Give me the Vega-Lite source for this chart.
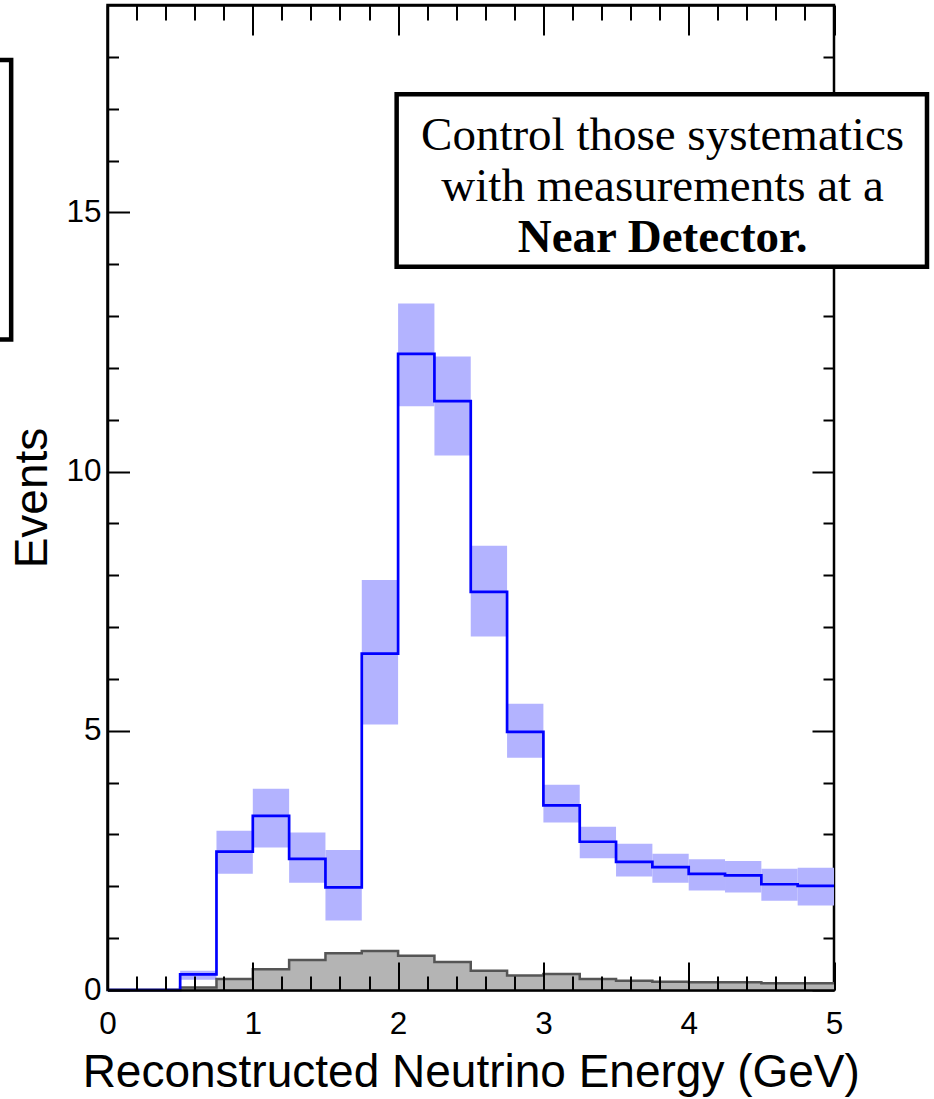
{
  "$schema": "https://vega.github.io/schema/vega-lite/v6.json",
  "width": 726.5,
  "height": 985,
  "autosize": {"type": "none"},
  "padding": {"left": 107.5, "top": 5, "right": 100, "bottom": 109},
  "background": "white",
  "config": {
    "view": {"stroke": "black", "strokeWidth": 2.5},
    "axis": {
      "labelFont": "Liberation Sans",
      "titleFont": "Liberation Sans",
      "labelColor": "black",
      "titleColor": "black",
      "labelFontSize": 31.5,
      "titleFontSize": 46,
      "titleFontWeight": "normal",
      "grid": false,
      "tickColor": "black",
      "tickWidth": 2,
      "domainColor": "black",
      "domainWidth": 2.5
    }
  },
  "datasets": {
    "hist": [
      {"lo": 0.0, "hi": 0.25, "blue": 0.0, "bLo": null, "bHi": null, "gray": 0.0},
      {"lo": 0.25, "hi": 0.5, "blue": 0.0, "bLo": null, "bHi": null, "gray": 0.0},
      {"lo": 0.5, "hi": 0.75, "blue": 0.30, "bLo": 0.20, "bHi": 0.37, "gray": 0.05},
      {"lo": 0.75, "hi": 1.0, "blue": 2.67, "bLo": 2.24, "bHi": 3.07, "gray": 0.21},
      {"lo": 1.0, "hi": 1.25, "blue": 3.36, "bLo": 2.75, "bHi": 3.88, "gray": 0.40},
      {"lo": 1.25, "hi": 1.5, "blue": 2.53, "bLo": 2.07, "bHi": 3.04, "gray": 0.58},
      {"lo": 1.5, "hi": 1.75, "blue": 1.98, "bLo": 1.34, "bHi": 2.70, "gray": 0.71},
      {"lo": 1.75, "hi": 2.0, "blue": 6.49, "bLo": 5.12, "bHi": 7.91, "gray": 0.75},
      {"lo": 2.0, "hi": 2.25, "blue": 12.27, "bLo": 11.26, "bHi": 13.24, "gray": 0.66},
      {"lo": 2.25, "hi": 2.5, "blue": 11.36, "bLo": 10.31, "bHi": 12.22, "gray": 0.54},
      {"lo": 2.5, "hi": 2.75, "blue": 7.68, "bLo": 6.82, "bHi": 8.57, "gray": 0.37},
      {"lo": 2.75, "hi": 3.0, "blue": 4.98, "bLo": 4.48, "bHi": 5.52, "gray": 0.28},
      {"lo": 3.0, "hi": 3.25, "blue": 3.56, "bLo": 3.23, "bHi": 3.96, "gray": 0.31},
      {"lo": 3.25, "hi": 3.5, "blue": 2.86, "bLo": 2.54, "bHi": 3.15, "gray": 0.21},
      {"lo": 3.5, "hi": 3.75, "blue": 2.47, "bLo": 2.19, "bHi": 2.82, "gray": 0.18},
      {"lo": 3.75, "hi": 4.0, "blue": 2.37, "bLo": 2.07, "bHi": 2.63, "gray": 0.16},
      {"lo": 4.0, "hi": 4.25, "blue": 2.24, "bLo": 1.92, "bHi": 2.52, "gray": 0.15},
      {"lo": 4.25, "hi": 4.5, "blue": 2.21, "bLo": 1.88, "bHi": 2.49, "gray": 0.15},
      {"lo": 4.5, "hi": 4.75, "blue": 2.04, "bLo": 1.72, "bHi": 2.34, "gray": 0.13},
      {"lo": 4.75, "hi": 5.0, "blue": 2.01, "bLo": 1.63, "bHi": 2.36, "gray": 0.13}
    ],
    "box": [{"x1": 1.99, "x2": 5.64, "y1": 13.95, "y2": 17.28}],
    "leftbox": [{"x1": -1.2, "x2": -0.663, "y1": 12.55, "y2": 17.94}],
    "lines": [
      {"t": "Control those systematics", "x": 3.82, "y": 16.2},
      {"t": "with measurements at a", "x": 3.82, "y": 15.21}
    ],
    "bold": [{"t": "Near Detector.", "x": 3.82, "y": 14.23}]
  },
  "layer": [
    {
      "data": {"name": "hist"},
      "mark": {"type": "rect", "color": "#b3b3ff"},
      "encoding": {
        "x": {
          "field": "lo", "type": "quantitative",
          "scale": {"domain": [0, 5], "nice": false, "zero": false},
          "axis": {
            "orient": "bottom",
            "values": [0, 1, 2, 3, 4, 5],
            "tickSize": -28,
            "format": "d",
            "labelPadding": 46,
            "labelFlush": false,
            "labelOverlap": false,
            "title": "Reconstructed Neutrino Energy (GeV)",
            "titlePadding": 11,
            "domain": true,
            "zindex": 1
          }
        },
        "x2": {"field": "hi"},
        "y": {
          "field": "bLo", "type": "quantitative",
          "scale": {"domain": [0, 19], "nice": false, "zero": false},
          "axis": {
            "orient": "left",
            "values": [0, 5, 10, 15],
            "tickSize": -22,
            "labelPadding": 28.5,
            "labelOverlap": false,
            "labelFlush": false,
            "title": "Events",
            "titlePadding": 9,
            "domain": true,
            "zindex": 1
          }
        },
        "y2": {"field": "bHi"}
      }
    },
    {
      "data": {"name": "hist"},
      "transform": [{"fold": ["lo", "hi"], "as": ["key", "edge"]}],
      "mark": {"type": "area", "color": "#b4b4b4"},
      "encoding": {
        "x": {
          "field": "edge", "type": "quantitative",
          "scale": {"domain": [0, 5], "nice": false, "zero": false},
          "axis": {
            "orient": "top",
            "values": [0, 1, 2, 3, 4, 5],
            "tickSize": -30,
            "labels": false,
            "title": null,
            "domain": true,
            "zindex": 1
          }
        },
        "y": {
          "field": "gray", "type": "quantitative", "stack": null,
          "scale": {"domain": [0, 19], "nice": false, "zero": false},
          "axis": {
            "orient": "right",
            "values": [0, 5, 10, 15],
            "tickSize": -22,
            "labels": false,
            "title": null,
            "domain": false,
            "zindex": 0
          }
        },
        "order": [{"field": "edge", "type": "quantitative"}, {"field": "key", "type": "ordinal"}]
      }
    },
    {
      "data": {"name": "hist"},
      "transform": [{"fold": ["lo", "hi"], "as": ["key", "edge"]}],
      "mark": {"type": "line", "color": "#555555", "strokeWidth": 2.5, "strokeJoin": "miter"},
      "encoding": {
        "x": {
          "field": "edge", "type": "quantitative",
          "scale": {"domain": [0, 5], "nice": false, "zero": false},
          "axis": {
            "orient": "bottom",
            "values": [0.2, 0.4, 0.6, 0.8, 1.2, 1.4, 1.6, 1.8, 2.2, 2.4, 2.6, 2.8, 3.2, 3.4, 3.6, 3.8, 4.2, 4.4, 4.6, 4.8],
            "tickSize": -14,
            "labels": false,
            "title": null,
            "domain": false,
            "zindex": 1
          }
        },
        "y": {
          "field": "gray", "type": "quantitative",
          "scale": {"domain": [0, 19], "nice": false, "zero": false},
          "axis": {
            "orient": "left",
            "values": [1, 2, 3, 4, 6, 7, 8, 9, 11, 12, 13, 14, 16, 17, 18],
            "tickSize": -11,
            "labels": false,
            "title": null,
            "domain": false,
            "zindex": 1
          }
        },
        "order": [{"field": "edge", "type": "quantitative"}, {"field": "key", "type": "ordinal"}]
      }
    },
    {
      "data": {"name": "hist"},
      "transform": [{"fold": ["lo", "hi"], "as": ["key", "edge"]}],
      "mark": {"type": "line", "color": "#0000ff", "strokeWidth": 2.7, "strokeJoin": "miter"},
      "encoding": {
        "x": {
          "field": "edge", "type": "quantitative",
          "scale": {"domain": [0, 5], "nice": false, "zero": false},
          "axis": {
            "orient": "top",
            "values": [0.2, 0.4, 0.6, 0.8, 1.2, 1.4, 1.6, 1.8, 2.2, 2.4, 2.6, 2.8, 3.2, 3.4, 3.6, 3.8, 4.2, 4.4, 4.6, 4.8],
            "tickSize": -15,
            "labels": false,
            "title": null,
            "domain": false,
            "zindex": 1
          }
        },
        "y": {
          "field": "blue", "type": "quantitative",
          "scale": {"domain": [0, 19], "nice": false, "zero": false},
          "axis": {
            "orient": "right",
            "values": [1, 2, 3, 4, 6, 7, 8, 9, 11, 12, 13, 14, 16, 17, 18],
            "tickSize": -11,
            "labels": false,
            "title": null,
            "domain": false,
            "zindex": 0
          }
        },
        "order": [{"field": "edge", "type": "quantitative"}, {"field": "key", "type": "ordinal"}]
      }
    },
    {
      "data": {"name": "leftbox"},
      "mark": {"type": "rect", "fill": "white", "stroke": "black", "strokeWidth": 4.5},
      "encoding": {
        "x": {"field": "x1", "type": "quantitative", "scale": {"domain": [0, 5], "nice": false, "zero": false}, "axis": null},
        "x2": {"field": "x2"},
        "y": {"field": "y1", "type": "quantitative", "scale": {"domain": [0, 19], "nice": false, "zero": false}, "axis": null},
        "y2": {"field": "y2"}
      }
    },
    {
      "data": {"name": "box"},
      "mark": {"type": "rect", "fill": "white", "stroke": "black", "strokeWidth": 4.5},
      "encoding": {
        "x": {"field": "x1", "type": "quantitative", "scale": {"domain": [0, 5], "nice": false, "zero": false}, "axis": null},
        "x2": {"field": "x2"},
        "y": {"field": "y1", "type": "quantitative", "scale": {"domain": [0, 19], "nice": false, "zero": false}, "axis": null},
        "y2": {"field": "y2"}
      }
    },
    {
      "data": {"name": "lines"},
      "mark": {"type": "text", "font": "Liberation Serif", "fontSize": 47, "align": "center", "baseline": "alphabetic", "color": "black"},
      "encoding": {
        "x": {"field": "x", "type": "quantitative", "scale": {"domain": [0, 5], "nice": false, "zero": false}, "axis": null},
        "y": {"field": "y", "type": "quantitative", "scale": {"domain": [0, 19], "nice": false, "zero": false}, "axis": null},
        "text": {"field": "t"}
      }
    },
    {
      "data": {"name": "bold"},
      "mark": {"type": "text", "font": "Liberation Serif", "fontSize": 47, "fontWeight": "bold", "align": "center", "baseline": "alphabetic", "color": "black"},
      "encoding": {
        "x": {"field": "x", "type": "quantitative", "scale": {"domain": [0, 5], "nice": false, "zero": false}, "axis": null},
        "y": {"field": "y", "type": "quantitative", "scale": {"domain": [0, 19], "nice": false, "zero": false}, "axis": null},
        "text": {"field": "t"}
      }
    }
  ],
  "resolve": {"axis": {"x": "independent", "y": "independent"}}
}
